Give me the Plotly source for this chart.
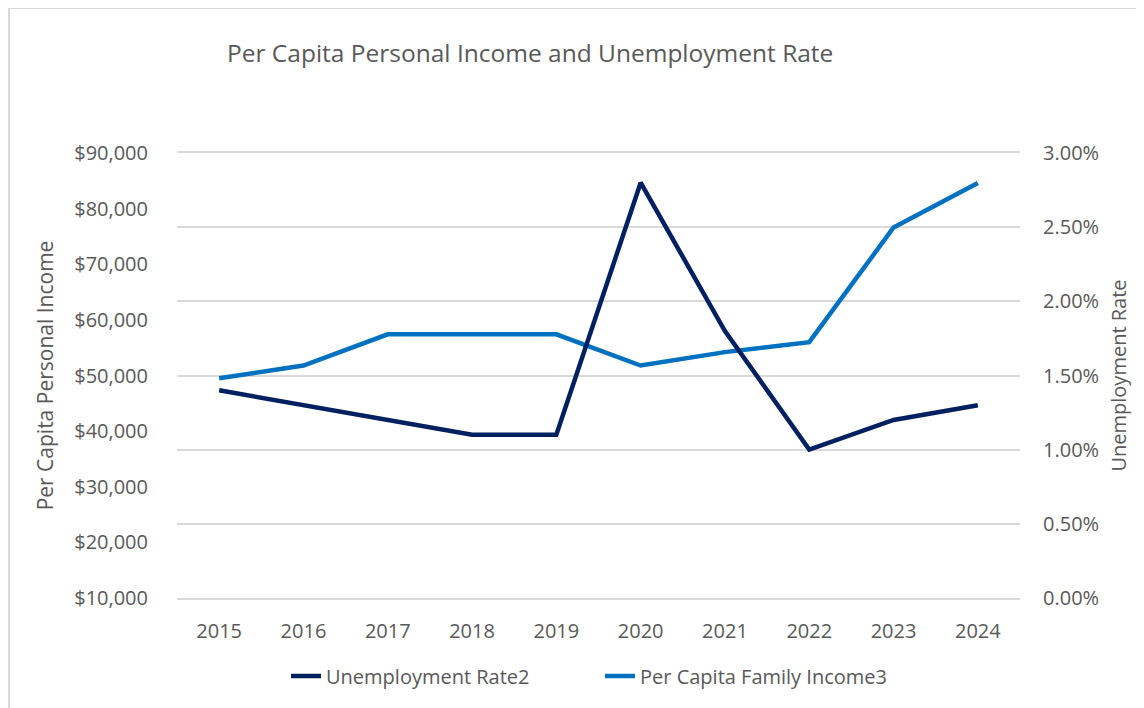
import plotly.graph_objects as go

years = ["2015", "2016", "2017", "2018", "2019", "2020", "2021", "2022", "2023", "2024"]
unemployment_rate = [0.014, 0.013, 0.012, 0.011, 0.011, 0.028, 0.018, 0.010, 0.012, 0.013]
per_capita_income = [49500, 51800, 57400, 57400, 57400, 51800, 54200, 56000, 76600, 84600]

left_ticks = [10000, 20000, 30000, 40000, 50000, 60000, 70000, 80000, 90000]
right_ticks = [0.0, 0.005, 0.01, 0.015, 0.02, 0.025, 0.03]

FONT = "Open Sans"
GRAY = "#595959"
GRID = "#d9d9d9"

# the page body adds an 8px offset, so the figure is laid out 8px smaller
W, H = 1136, 700
L, R, T, B = 169, 124, 145, 110
PW = W - L - R
PH = H - T - B

fig = go.Figure()
fig.add_trace(go.Scatter(
    x=years, y=unemployment_rate, name="Unemployment Rate2", yaxis="y2",
    mode="lines", line=dict(color="#002060", width=4.5),
))
fig.add_trace(go.Scatter(
    x=years, y=per_capita_income, name="Per Capita Family Income3", yaxis="y",
    mode="lines", line=dict(color="#0070C0", width=4.5),
))

fig.update_layout(
    width=W, height=H,
    margin=dict(l=L, r=R, t=T, b=B),
    paper_bgcolor="white", plot_bgcolor="white",
    font=dict(family=FONT, color=GRAY, size=20),
    title=dict(
        text="Per Capita Personal Income and Unemployment Rate",
        x=50 / PW, xref="paper", xanchor="left",
        y=1 - 45 / H, yref="container", yanchor="middle",
        font=dict(family=FONT, size=24.5, color=GRAY),
    ),
    xaxis=dict(
        type="category", range=[-0.5, 9.5],
        showgrid=False, zeroline=False,
        showline=True, mirror=True, linecolor=GRID, linewidth=2,
        ticks="outside", ticklen=14, tickcolor="rgba(0,0,0,0)",
        tickfont=dict(size=20, color=GRAY),
    ),
    yaxis=dict(
        range=[10000, 90000], tickvals=left_ticks, tickformat="$,.0f",
        showgrid=False, zeroline=False, showline=False,
        ticks="outside", ticklen=24, tickcolor="rgba(0,0,0,0)",
        tickfont=dict(size=20, color=GRAY),
        title=dict(text="Per Capita Personal Income", font=dict(size=21, color=GRAY), standoff=14),
    ),
    yaxis2=dict(
        range=[0, 0.03], tickvals=right_ticks, tickformat=".2%",
        overlaying="y", side="right",
        showgrid=True, gridcolor=GRID, gridwidth=2, zeroline=False, showline=False,
        ticks="outside", ticklen=18, tickcolor="rgba(0,0,0,0)",
        tickfont=dict(size=20, color=GRAY),
        title=dict(text="Unemployment Rate", font=dict(size=20, color=GRAY), standoff=13),
    ),
    legend=dict(
        orientation="h", x=(286 - 177) / PW, xanchor="left",
        y=1 - (676 - 153) / PH, yanchor="middle",
        font=dict(size=20, color=GRAY),
        tracegroupgap=0,
        entrywidth=269, entrywidthmode="pixels",
    ),
    showlegend=True,
)

# chart-area border (top and left edges visible in the reference)
fig.add_shape(type="line", xref="paper", yref="paper",
              x0=-L / PW, x1=(W + 10 - L) / PW,
              y0=(T + PH - 0) / PH, y1=(T + PH - 0) / PH,
              line=dict(color=GRID, width=2))
fig.add_shape(type="line", xref="paper", yref="paper",
              x0=(1 - L) / PW, x1=(1 - L) / PW,
              y0=(T + PH) / PH, y1=-(B + 10) / PH,
              line=dict(color=GRID, width=2))

fig.write_html("out.html")
